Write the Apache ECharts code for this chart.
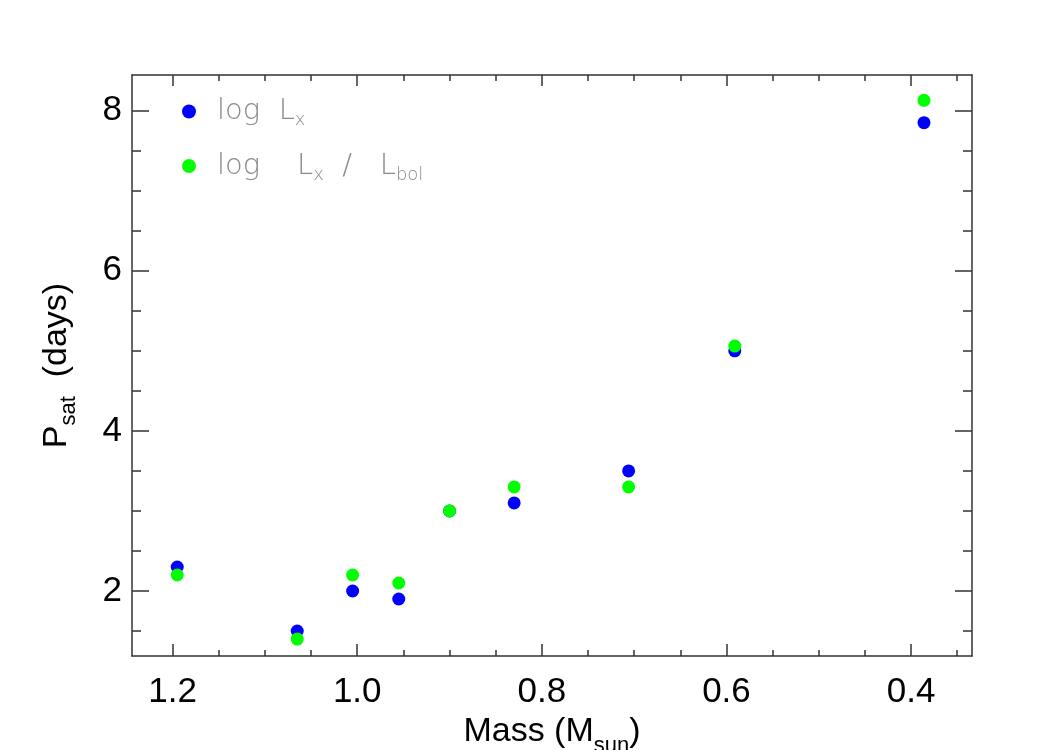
<!DOCTYPE html>
<html>
<head>
<meta charset="utf-8">
<script src="https://cdn.jsdelivr.net/npm/echarts@6/dist/echarts.min.js"></script>
<style>
  html, body { margin: 0; padding: 0; background: #fff; }
  #chart { width: 1050px; height: 750px; }
</style>
</head>
<body>
<div id="chart"></div>
<script>
// stellar mass (M_sun) of each bin
const mass = [1.195, 1.065, 1.005, 0.955, 0.9, 0.83, 0.706, 0.591, 0.386];
// saturation period (days) from log Lx
const psatLx = [2.3, 1.5, 2.0, 1.9, 3.0, 3.1, 3.5, 5.0, 7.85];
// saturation period (days) from log Lx/Lbol
const psatLxLbol = [2.2, 1.4, 2.2, 2.1, 3.0, 3.3, 3.3, 5.06, 8.13];

const xMajorTicks = [0.4, 0.6, 0.8, 1.0, 1.2];
const xMinorTicks = [0.35, 0.45, 0.5, 0.55, 0.65, 0.7, 0.75, 0.85, 0.9, 0.95, 1.05, 1.1, 1.15];
const yMajorTicks = [2, 4, 6, 8];
const yMinorTicks = [1.5, 2.5, 3, 3.5, 4.5, 5, 5.5, 6.5, 7, 7.5];

const xMin = 0.334, xMax = 1.244;
const yMin = 1.188, yMax = 8.446;

const frameColor = "#333";
const sansFont = "Liberation Sans";

function xAxisDef(position, ticks, len, showLine) {
  return {
    type: "value",
    position: position,
    min: xMin,
    max: xMax,
    inverse: true,
    axisLine: { show: showLine, lineStyle: { color: frameColor, width: 1.5 } },
    axisTick: { show: true, inside: true, length: len, customValues: ticks,
      lineStyle: { color: frameColor, width: 1.5 } },
    axisLabel: { show: false },
    splitLine: { show: false },
  };
}

function yAxisDef(position, ticks, len, showLine) {
  return {
    type: "value",
    position: position,
    min: yMin,
    max: yMax,
    axisLine: { show: showLine, lineStyle: { color: frameColor, width: 1.5 } },
    axisTick: { show: true, inside: true, length: len, customValues: ticks,
      lineStyle: { color: frameColor, width: 1.5 } },
    axisLabel: { show: false },
    splitLine: { show: false },
  };
}

// bottom axis carries the labels and the title
const xBottom = xAxisDef("bottom", xMajorTicks, 12, true);
xBottom.axisLabel = {
  show: true,
  customValues: xMajorTicks,
  formatter: function (v) { return v.toFixed(1); },
  fontSize: 35,
  fontFamily: sansFont,
  color: "#000",
  margin: 19,
};
xBottom.name = "Mass (M{sub|sun})";
xBottom.nameLocation = "middle";
xBottom.nameGap = 50;
xBottom.nameTextStyle = {
  fontSize: 34,
  fontFamily: sansFont,
  color: "#000",
  rich: { sub: { fontSize: 22, fontFamily: sansFont, color: "#000", padding: [28, 0, 0, 0] } },
};

const yLeft = yAxisDef("left", yMajorTicks, 17, true);
yLeft.axisLabel = {
  show: true,
  customValues: yMajorTicks,
  formatter: function (v) { return String(v); },
  fontSize: 35,
  fontFamily: sansFont,
  color: "#000",
  margin: 10,
};
yLeft.name = "P{sub|sat}  (days)";
yLeft.nameLocation = "middle";
yLeft.nameGap = 52;
yLeft.nameTextStyle = {
  fontSize: 34,
  fontFamily: sansFont,
  color: "#000",
  rich: { sub: { fontSize: 22, fontFamily: sansFont, color: "#000", padding: [24, 0, 0, 0] } },
};

const legendFont = { fontFamily: "DejaVu Sans", fontWeight: 200, color: "#8a8a8a" };

const myChart = echarts.init(document.getElementById("chart"));
var option = {
  animation: false,
  backgroundColor: "#fff",
  grid: { left: 132, right: 78, top: 75, bottom: 94, outerBoundsMode: "none", containLabel: false },
  legend: {
    orient: "vertical",
    left: 177,
    top: 90,
    padding: 5,
    icon: "circle",
    itemWidth: 14,
    itemHeight: 14,
    itemGap: 20,
    data: ["Lx", "LxLbol"],
    formatter: function (name) {
      return name === "Lx" ? "log  L{s|x}" : "log    L{s|x}  /   L{s|bol}";
    },
    textStyle: Object.assign({ fontSize: 29, lineHeight: 33, padding: [0, 0, 0, 16],
      rich: { s: Object.assign({ fontSize: 18, padding: [18, 0, 0, 0] }, legendFont) } }, legendFont),
  },
  xAxis: [
    xBottom,
    xAxisDef("bottom", xMinorTicks, 6, false),
    xAxisDef("top", xMajorTicks, 11, true),
    xAxisDef("top", xMinorTicks, 6, false),
  ],
  yAxis: [
    yLeft,
    yAxisDef("left", yMinorTicks, 9, false),
    yAxisDef("right", yMajorTicks, 17, true),
    yAxisDef("right", yMinorTicks, 9, false),
  ],
  series: [
    {
      name: "Lx",
      type: "scatter",
      xAxisIndex: 0,
      yAxisIndex: 0,
      symbol: "circle",
      symbolSize: 13,
      itemStyle: { color: "#0000ff", opacity: 1 },
      data: mass.map(function (m, i) { return [m, psatLx[i]]; }),
    },
    {
      name: "LxLbol",
      type: "scatter",
      xAxisIndex: 0,
      yAxisIndex: 0,
      symbol: "circle",
      symbolSize: 13,
      itemStyle: { color: "#00ff00", opacity: 1 },
      data: mass.map(function (m, i) { return [m, psatLxLbol[i]]; }),
    },
  ],
};
myChart.setOption(option);
</script>
</body>
</html>
